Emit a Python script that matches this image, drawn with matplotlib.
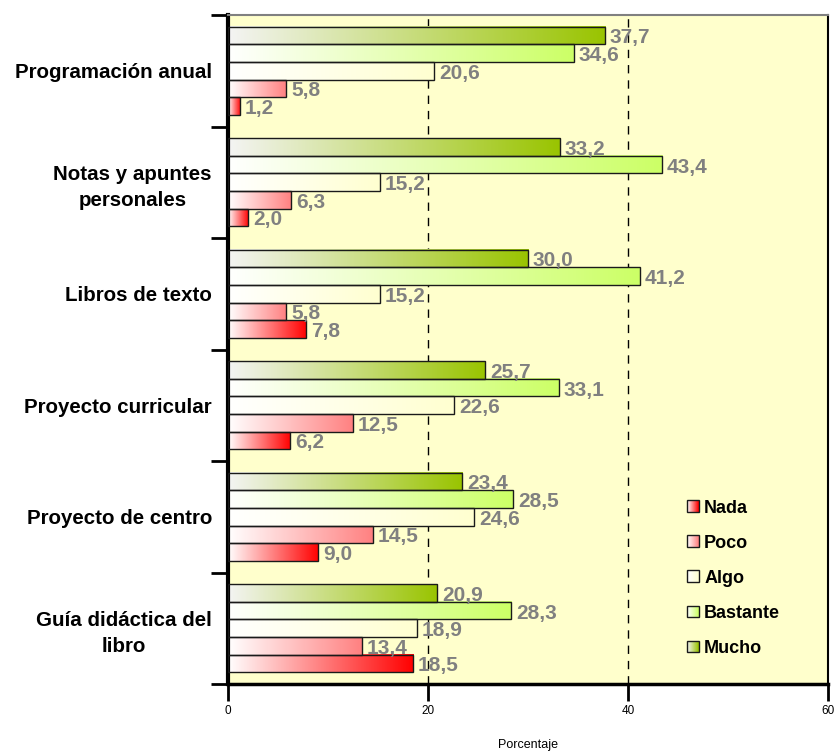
import numpy as np
import matplotlib
matplotlib.use("Agg")
import matplotlib.pyplot as plt
from matplotlib.colors import LinearSegmentedColormap, to_rgb
from matplotlib.patches import Rectangle
from matplotlib.legend_handler import HandlerBase

plt.rcParams['font.family'] = ['Liberation Sans', 'DejaVu Sans']

categories = ["Programación anual", "Notas y apuntes\npersonales", "Libros de texto",
              "Proyecto curricular", "Proyecto de centro", "Guía didáctica del\nlibro"]
series = ["Nada", "Poco", "Algo", "Bastante", "Mucho"]
nada = [1.2, 2.0, 7.8, 6.2, 9.0, 18.5]
poco = [5.8, 6.3, 5.8, 12.5, 14.5, 13.4]
algo = [20.6, 15.2, 15.2, 22.6, 24.6, 18.9]
bastante = [34.6, 43.4, 41.2, 33.1, 28.5, 28.3]
mucho = [37.7, 33.2, 30.0, 25.7, 23.4, 20.9]
values = [nada, poco, algo, bastante, mucho]
xticks = [0, 20, 40, 60]

end_colors = ["#ff0000", "#ff8080", "#ffffd0", "#ccff66", "#99c400"]
start_colors = ["#ffffff", "#ffffff", "#ffffff", "#ffffff", "#f4f4f4"]

fig = plt.figure(figsize=(8.35, 7.51), dpi=100)
ax = fig.add_axes([0.273, 0.0892, 0.7186, 0.8908])
ax.set_facecolor("#ffffcc")

n = len(categories)
bar_h = 0.158

grad = np.linspace(0, 1, 256).reshape(1, -1)
for j, (vals, c0, c1) in enumerate(zip(values, start_colors, end_colors)):
    cmap = LinearSegmentedColormap.from_list(series[j], [c0, c1])
    for i, v in enumerate(vals):
        # bars stacked top-to-bottom: Mucho, Bastante, Algo, Poco, Nada
        slot = 4 - j
        y0 = i + 0.5 - 2.5 * bar_h + slot * bar_h
        y1 = y0 + bar_h
        ax.imshow(grad, cmap=cmap, aspect="auto", extent=(0, v, y1, y0),
                  zorder=2, interpolation="bilinear")
        ax.add_patch(Rectangle((0, y0), v, bar_h, facecolor="none",
                               edgecolor="#1a1a1a", lw=1.0, zorder=3))
        ax.text(v + 0.5, y0 + bar_h * 0.95, f"{v:.1f}".replace(".", ","),
                color="#808080", fontsize=15, fontweight="bold",
                va="baseline", ha="left", zorder=4)

ax.set_xlim(0, 60)
ax.set_ylim(n, 0)

for xv in (20, 40):
    ax.axvline(xv, color="black", lw=1, ls=(0, (6, 5)), zorder=1)

ax.set_yticks(np.arange(n) + 0.5)
ax.set_yticklabels(categories, fontsize=14.8, fontweight="bold", ha="right",
                   multialignment="center", linespacing=1.45)
ax.tick_params(axis="y", which="major", length=0, pad=11.5)
ax.set_yticks(np.arange(n + 1), minor=True)
ax.tick_params(axis="y", which="minor", length=12, width=2, direction="out")

ax.set_xticks(xticks)
ax.set_xticklabels([str(t) for t in xticks], fontsize=8.5)
ax.tick_params(axis="x", length=12, width=2, direction="out", pad=3)
ax.set_xlabel("Porcentaje", fontsize=9, labelpad=16)

ax.spines["left"].set_linewidth(3)
ax.spines["bottom"].set_linewidth(2.5)
ax.spines["top"].set_color("#808080")
ax.spines["top"].set_linewidth(1.5)
ax.spines["right"].set_linewidth(1.5)


class GradientHandler(HandlerBase):
    def __init__(self, c0, c1):
        super().__init__()
        self.c0 = np.array(to_rgb(c0))
        self.c1 = np.array(to_rgb(c1))

    def create_artists(self, legend, orig_handle, xdescent, ydescent, width,
                       height, fontsize, trans):
        size = min(width, height)
        x0 = -xdescent + width - size
        y0 = -ydescent + (height - size) / 2
        arts = []
        k = 12
        for s in range(k):
            t = s / (k - 1)
            col = self.c0 * (1 - t) + self.c1 * t
            arts.append(Rectangle((x0 + size * s / k, y0), size / k, size,
                                  facecolor=col, edgecolor="none", transform=trans))
        arts.append(Rectangle((x0, y0), size, size, facecolor="none",
                              edgecolor="#1a1a1a", lw=1.0, transform=trans))
        return arts


handles = [Rectangle((0, 0), 1, 1) for _ in series]
hmap = {h: GradientHandler(c0, c1) for h, c0, c1 in zip(handles, start_colors, end_colors)}
leg = ax.legend(handles, series, handler_map=hmap, loc="upper left",
                bbox_to_anchor=(0.738, 0.30), frameon=False,
                prop={"weight": "bold", "size": 13}, labelspacing=1.0,
                handlelength=0.65, handleheight=0.65, handletextpad=0.3)

fig.savefig("out.png", dpi=100)
